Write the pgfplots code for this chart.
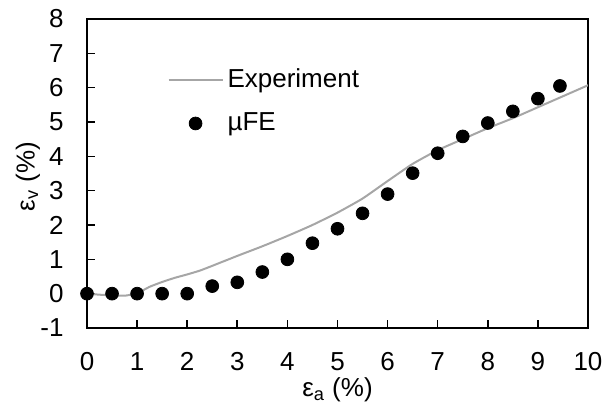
\documentclass[border=0pt]{standalone}
\usepackage{fontspec}
\setmainfont{Liberation Sans}
\usepackage{pgfplots}
\pgfplotsset{compat=1.18}
\definecolor{expgray}{HTML}{A6A6A6}

\begin{document}
\fontsize{13}{15}\selectfont
\begin{tikzpicture}[font=\fontsize{13}{15}\selectfont]
\begin{axis}[
  scale only axis, width=250.5pt, height=154.5pt,
  xmin=0, xmax=10, ymin=-1, ymax=8,
  xtick={0,...,10}, ytick={-1,...,8},
  xtick pos=bottom, ytick pos=left,
  tick align=inside, major tick length=4pt,
  axis line style={line width=0.9pt}, every tick/.style={black, line width=0.8pt},
  /pgf/number format/assume math mode=true,
  every tick label/.append style={inner sep=0pt, font=\fontsize{13}{15}\selectfont},
  xticklabel shift=12pt, yticklabel shift=11.5pt,
  xlabel={ε\textsubscript{a} (\%)}, ylabel={ε\textsubscript{v} (\%)},
  every axis label/.append style={font=\fontsize{13}{15}\selectfont},
  xlabel style={at={(axis description cs:0.5,0)}, anchor=center, yshift=-31pt, inner sep=0pt},
  ylabel style={at={(axis description cs:-0.118,0.49)}, anchor=center, inner sep=0pt},
  legend cell align=left,
  legend style={draw=none, fill=none, inner sep=0pt, row sep=10.5pt, column sep=0pt,
    at={(axis cs:1.6,6.56)}, anchor=north west,
    font=\fontsize{13}{15}\selectfont,
    nodes={inner sep=0pt}},
]
\addplot[color=expgray, line width=1pt, smooth, tension=0.3,
  legend image code/.code={\draw[expgray, line width=1pt] (0pt,0pt) -- (27pt,0pt); \path (29pt,0pt);}]
  coordinates {(0,0) (0.25,-0.03) (0.5,-0.05) (0.75,-0.06) (1,0.01) (1.25,0.2) (1.5,0.34) (1.75,0.46) (2,0.56) (2.25,0.67) (2.5,0.81) (3,1.1) (3.5,1.38) (4,1.68) (4.5,2.0) (5,2.36) (5.5,2.77) (6,3.28) (6.5,3.78) (7,4.18) (7.5,4.5) (8,4.82) (8.5,5.11) (9,5.43) (9.5,5.75) (10,6.07)};
\addlegendentry{Experiment}
\addplot[only marks, mark=*, mark size=3.2pt, black,
  legend image code/.code={\fill[black] (13.5pt,0pt) circle (3.2pt); \path (29pt,0pt);}]
  coordinates {(0,0) (0.5,0) (1,0) (1.5,0) (2,0) (2.5,0.22) (3,0.33) (3.5,0.63) (4,1.0) (4.5,1.47) (5,1.89) (5.5,2.34) (6,2.9) (6.5,3.51) (7,4.09) (7.5,4.58) (8,4.97) (8.5,5.31) (9,5.68) (9.44,6.05)};
\addlegendentry{µFE}
\end{axis}
\path[use as bounding box] (-43.5pt,-41pt) rectangle (259.5pt,164pt);
\end{tikzpicture}
\end{document}
